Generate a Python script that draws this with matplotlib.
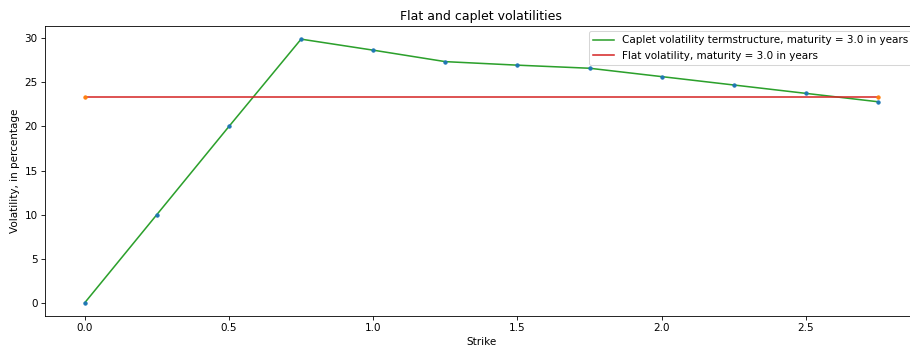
import matplotlib
matplotlib.use("Agg")
import matplotlib.pyplot as plt

strikes = [0.0, 0.25, 0.5, 0.75, 1.0, 1.25, 1.5, 1.75, 2.0, 2.25, 2.5, 2.75]
caplet_vols = [0.0, 10.0, 20.0, 29.9, 28.65, 27.35, 26.95, 26.6, 25.65, 24.7, 23.75, 22.8]
flat_strikes = [0.0, 2.75]
flat_vols = [23.35, 23.35]

# rendered at 75 dpi so text and lines come out at the reference's scale
fig = plt.figure(figsize=(910 / 75, 349 / 75), dpi=75)
ax = fig.add_axes([0.0495, 0.0946, 0.959, 0.831])

ax.plot(strikes, caplet_vols, color='C2', label='Caplet volatility termstructure, maturity = 3.0 in years')
ax.scatter(strikes, caplet_vols, s=10, color='C0', zorder=3)
ax.plot(flat_strikes, flat_vols, color='C3', label='Flat volatility, maturity = 3.0 in years')
ax.scatter(flat_strikes, flat_vols, s=10, color='C1', zorder=3)

ax.set_xlabel('Strike')
ax.set_ylabel('Volatility, in percentage')
ax.set_title('Flat and caplet volatilities')
ax.legend(loc='upper right')

fig.savefig('out.png', dpi=75)
